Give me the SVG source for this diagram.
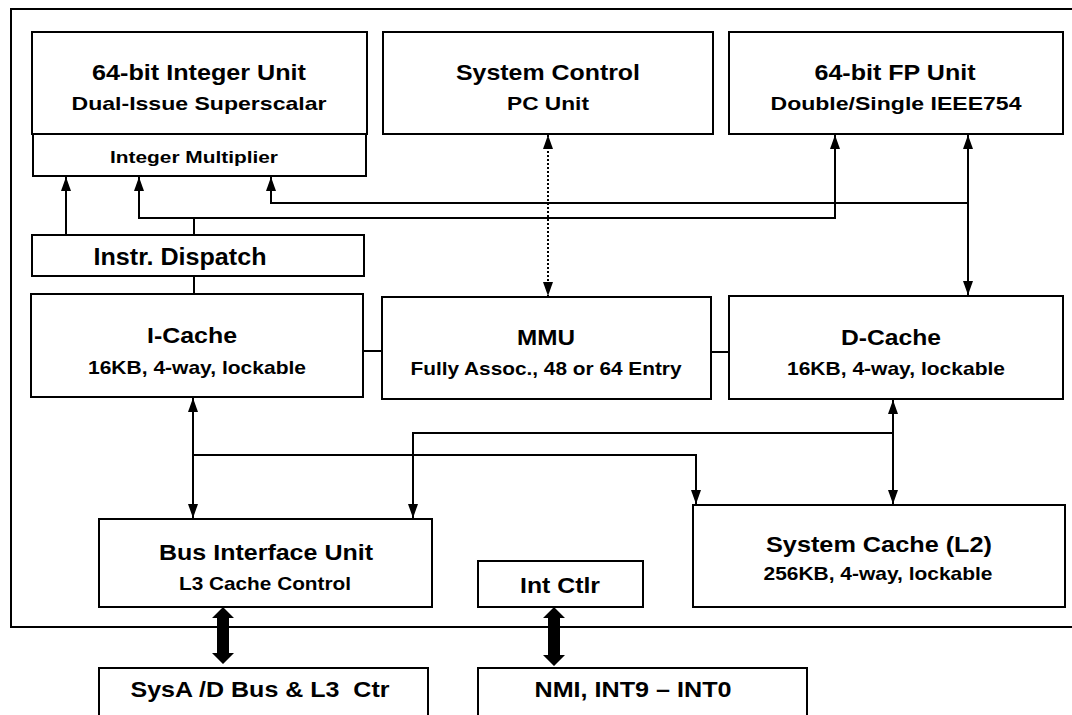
<svg xmlns="http://www.w3.org/2000/svg" width="1072" height="715" viewBox="0 0 1072 715">
<style>
.box{fill:#fff;stroke:#000;stroke-width:2}
.frame{fill:none;stroke:#000;stroke-width:2}
.ln{fill:none;stroke:#000;stroke-width:2}
.dot{fill:none;stroke:#000;stroke-width:2;stroke-dasharray:2 2}
.thick{fill:#000;stroke:none}
text{font-family:"Liberation Sans",Arial,Helvetica,sans-serif;font-weight:bold;fill:#000;text-anchor:middle}
.t1{font-size:21.5px}
.t2{font-size:18.5px}
.t3{font-size:17px}
.t4{font-size:23.5px}
</style>
<defs>
<marker id="ah" viewBox="0 0 14 10" refX="14" refY="5" markerWidth="14" markerHeight="10" markerUnits="userSpaceOnUse" orient="auto-start-reverse">
<path d="M0,0 L14,5 L0,10 z" fill="#000"/>
</marker>
</defs>
<rect width="1072" height="715" fill="#fff"/>
<path class="frame" d="M1085,9 H11 V627 H1085"/>

<g id="connectors">
<path class="ln" d="M66,235 V177" marker-end="url(#ah)"/>
<path class="ln" d="M194,235 V218"/>
<path class="ln" d="M139,177 V218 H835 V135" marker-start="url(#ah)" marker-end="url(#ah)"/>
<path class="ln" d="M271,177 V203 H968" marker-start="url(#ah)"/>
<path class="ln" d="M968,135 V295" marker-start="url(#ah)" marker-end="url(#ah)"/>
<path class="dot" d="M548,135 V296" marker-start="url(#ah)" marker-end="url(#ah)"/>
<path class="ln" d="M194,276 V294"/>
<path class="ln" d="M363,351 H382"/>
<path class="ln" d="M711,352 H729"/>
<path class="ln" d="M193,398 V518" marker-start="url(#ah)" marker-end="url(#ah)"/>
<path class="ln" d="M193,455 H696 V504" marker-end="url(#ah)"/>
<path class="ln" d="M893,400 V504" marker-start="url(#ah)" marker-end="url(#ah)"/>
<path class="ln" d="M893,433 H413 V518" marker-end="url(#ah)"/>
<polygon class="thick" points="223,607 234,618 229,618 229,653 234,653 223,664 212,653 217,653 217,618 212,618"/>
<polygon class="thick" points="554,607 565,618 560,618 560,655 565,655 554,666 543,655 548,655 548,618 543,618"/>
</g>

<g id="int-unit">
<rect class="box" x="32" y="32" width="335" height="102"/>
<text class="t1" x="199" y="80" textLength="214" lengthAdjust="spacingAndGlyphs">64-bit Integer Unit</text>
<text class="t2" x="199" y="110" textLength="255" lengthAdjust="spacingAndGlyphs">Dual-Issue Superscalar</text>
</g>
<g id="int-mult">
<rect class="box" x="33" y="134" width="333" height="42"/>
<text class="t3" x="194" y="163" textLength="168" lengthAdjust="spacingAndGlyphs">Integer Multiplier</text>
</g>
<g id="sys-control">
<rect class="box" x="383" y="32" width="330" height="102"/>
<text class="t1" x="548" y="80" textLength="184" lengthAdjust="spacingAndGlyphs">System Control</text>
<text class="t2" x="548" y="110" textLength="82" lengthAdjust="spacingAndGlyphs">PC Unit</text>
</g>
<g id="fp-unit">
<rect class="box" x="729" y="32" width="334" height="102"/>
<text class="t1" x="895" y="80" textLength="161" lengthAdjust="spacingAndGlyphs">64-bit FP Unit</text>
<text class="t2" x="896" y="110" textLength="251" lengthAdjust="spacingAndGlyphs">Double/Single IEEE754</text>
</g>
<g id="dispatch">
<rect class="box" x="32" y="235" width="332" height="41"/>
<text class="t4" x="180" y="265" textLength="173" lengthAdjust="spacingAndGlyphs">Instr. Dispatch</text>
</g>
<g id="icache">
<rect class="box" x="31" y="294" width="332" height="103"/>
<text class="t1" x="192" y="343" textLength="90" lengthAdjust="spacingAndGlyphs">I-Cache</text>
<text class="t2" x="197" y="374" textLength="218" lengthAdjust="spacingAndGlyphs">16KB, 4-way, lockable</text>
</g>
<g id="mmu">
<rect class="box" x="382" y="297" width="329" height="102"/>
<text class="t1" x="546" y="345" textLength="58" lengthAdjust="spacingAndGlyphs">MMU</text>
<text class="t2" x="546" y="375" textLength="271" lengthAdjust="spacingAndGlyphs">Fully Assoc., 48 or 64 Entry</text>
</g>
<g id="dcache">
<rect class="box" x="729" y="296" width="334" height="103"/>
<text class="t1" x="891" y="345" textLength="100" lengthAdjust="spacingAndGlyphs">D-Cache</text>
<text class="t2" x="896" y="375" textLength="218" lengthAdjust="spacingAndGlyphs">16KB, 4-way, lockable</text>
</g>
<g id="biu">
<rect class="box" x="99" y="519" width="333" height="88"/>
<text class="t1" x="266" y="560" textLength="214" lengthAdjust="spacingAndGlyphs">Bus Interface Unit</text>
<text class="t2" x="265" y="590" textLength="172" lengthAdjust="spacingAndGlyphs">L3 Cache Control</text>
</g>
<g id="sys-cache">
<rect class="box" x="693" y="505" width="372" height="102"/>
<text class="t1" x="879" y="552" textLength="226" lengthAdjust="spacingAndGlyphs">System Cache (L2)</text>
<text class="t2" x="878" y="580" textLength="229" lengthAdjust="spacingAndGlyphs">256KB, 4-way, lockable</text>
</g>
<g id="int-ctlr">
<rect class="box" x="478" y="561" width="165" height="46"/>
<text class="t1" x="560" y="593" textLength="80" lengthAdjust="spacingAndGlyphs">Int Ctlr</text>
</g>
<g id="sysad-bus">
<rect class="box" x="99" y="668" width="329" height="60"/>
<text class="t1" x="260" y="697" textLength="259" lengthAdjust="spacingAndGlyphs" style="white-space:pre">SysA /D Bus &amp; L3  Ctr</text>
</g>
<g id="nmi">
<rect class="box" x="478" y="668" width="329" height="60"/>
<text class="t1" x="633" y="697" textLength="197" lengthAdjust="spacingAndGlyphs">NMI, INT9 – INT0</text>
</g>
</svg>
